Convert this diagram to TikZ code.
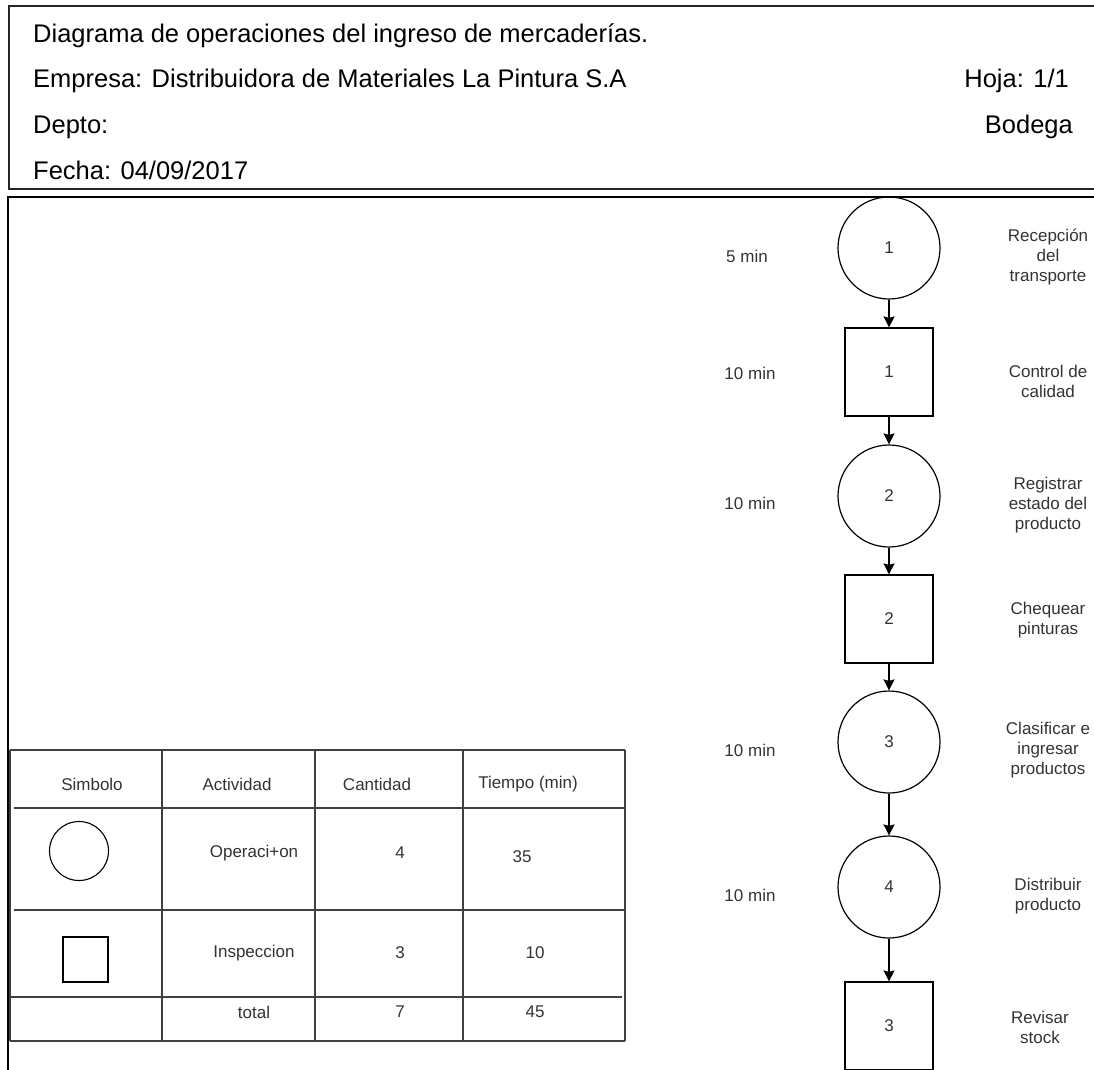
\documentclass[tikz,border=0pt]{standalone}
\usepackage{fontspec}
\setmainfont{Liberation Sans}
\usetikzlibrary{arrows.meta}
\begin{document}
\begin{tikzpicture}[x=1pt,y=-1pt,
  headtext/.style={inner sep=0pt, font=\fontsize{25.5}{30}\selectfont},
  flowtext/.style={inner sep=0pt, align=center, text=black!80, font=\fontsize{17}{20}\selectfont},
  tabtext/.style={inner sep=0pt, text=black!80, font=\fontsize{17}{20}\selectfont},
  opcircle/.style={draw=black, circle, line width=1.2pt, minimum size=102pt, inner sep=0pt,
    text=black!80, font=\fontsize{17}{20}\selectfont},
  inspbox/.style={draw=black, rectangle, line width=1.2pt, minimum size=88pt, inner sep=0pt,
    text=black!80, font=\fontsize{17}{20}\selectfont},
  flowarrow/.style={draw=black, line width=1.2pt, -{Stealth[length=11pt,width=11pt,inset=1.5pt]}},
  tabline/.style={draw=black!75, line width=1.3pt},
]
\useasboundingbox (0,0) rectangle (1094,1069);
\clip (0,0) rectangle (1094,1069);

% header frame and main frame (both run past the right and bottom edges)
\draw[line width=1.4pt, draw=black!85] (1100,6) -- (9,6) -- (9,189) -- (1100,189);
\draw[line width=2pt] (1100,197) -- (8,197) -- (8,1080);

% header texts
\node[headtext, anchor=base west] (title) at (33,42) {Diagrama de operaciones del ingreso de mercaderías.};
\node[headtext, anchor=base west] (empresa) at (33,87) {Empresa: Distribuidora de Materiales La Pintura S.A};
\node[headtext, anchor=base east] (hoja) at (1069,87) {Hoja: 1/1};
\node[headtext, anchor=base west] (depto) at (33,133) {Depto:};
\node[headtext, anchor=base east] (bodega) at (1073,133) {Bodega};
\node[headtext, anchor=base west] (fecha) at (33,179) {Fecha: 04/09/2017};

% process chart
\node[opcircle] (c1) at (889,248) {1};
\node[inspbox]  (s1) at (889,372) {1};
\node[opcircle] (c2) at (889,496) {2};
\node[inspbox]  (s2) at (889,619) {2};
\node[opcircle] (c3) at (889,742) {3};
\node[opcircle] (c4) at (889,887) {4};
\node[inspbox]  (s3) at (889,1026) {3};

\draw[flowarrow] (c1.south) -- (s1.north);
\draw[flowarrow] (s1.south) -- (c2.north);
\draw[flowarrow] (c2.south) -- (s2.north);
\draw[flowarrow] (s2.south) -- (c3.north);
\draw[flowarrow] (c3.south) -- (c4.north);
\draw[flowarrow] (c4.south) -- (s3.north);

% times
\node[flowtext] (t1) at (747,256) {5 min};
\node[flowtext] (t2) at (750,373) {10 min};
\node[flowtext] (t3) at (750,503) {10 min};
\node[flowtext] (t4) at (750,750) {10 min};
\node[flowtext] (t5) at (750,895) {10 min};

% activity descriptions
\node[flowtext] (d1) at (1048,257) {Recepción\\del\\transporte};
\node[flowtext] (d2) at (1048,381) {Control de\\calidad};
\node[flowtext] (d3) at (1048,505) {Registrar\\estado del\\producto};
\node[flowtext] (d4) at (1048,620) {Chequear\\pinturas};
\node[flowtext] (d5) at (1048,750) {Clasificar e\\ingresar\\productos};
\node[flowtext] (d6) at (1048,896) {Distribuir\\producto};
\node[flowtext] (d7) at (1040,1027) {Revisar\\stock};

% summary table
\draw[tabline] (10,750) -- (625,750);
\draw[tabline] (14,808) -- (625,808);
\draw[tabline] (14,910) -- (625,910);
\draw[tabline] (10,997) -- (622,997);
\draw[tabline] (10,1041) -- (625,1041);
\draw[tabline] (10,750) -- (10,1041);
\draw[tabline] (162,750) -- (162,1041);
\draw[tabline] (315,750) -- (315,1041);
\draw[tabline] (463,750) -- (463,1041);
\draw[tabline] (625,750) -- (625,1041);

\node[tabtext] (h1) at (92,784) {Simbolo};
\node[tabtext] (h2) at (237,784) {Actividad};
\node[tabtext] (h3) at (377,784) {Cantidad};
\node[tabtext] (h4) at (528,784) {Tiempo (min)};

\node[draw=black, circle, line width=1.1pt, minimum size=59pt, inner sep=0pt] (symop) at (79,851) {};
\node[tabtext] (a1) at (254,853) {Operaci+on};
\node[tabtext] (q1) at (400,853) {4};
\node[tabtext] (m1) at (522,857) {35};

\node[draw=black, rectangle, line width=1.1pt, minimum size=45pt, inner sep=0pt] (symin) at (85.5,959.5) {};
\node[tabtext] (a2) at (254,953) {Inspeccion};
\node[tabtext] (q2) at (400,953) {3};
\node[tabtext] (m2) at (535,953) {10};

\node[tabtext] (a3) at (254,1012) {total};
\node[tabtext] (q3) at (400,1012) {7};
\node[tabtext] (m3) at (535,1012) {45};
\end{tikzpicture}
\end{document}
